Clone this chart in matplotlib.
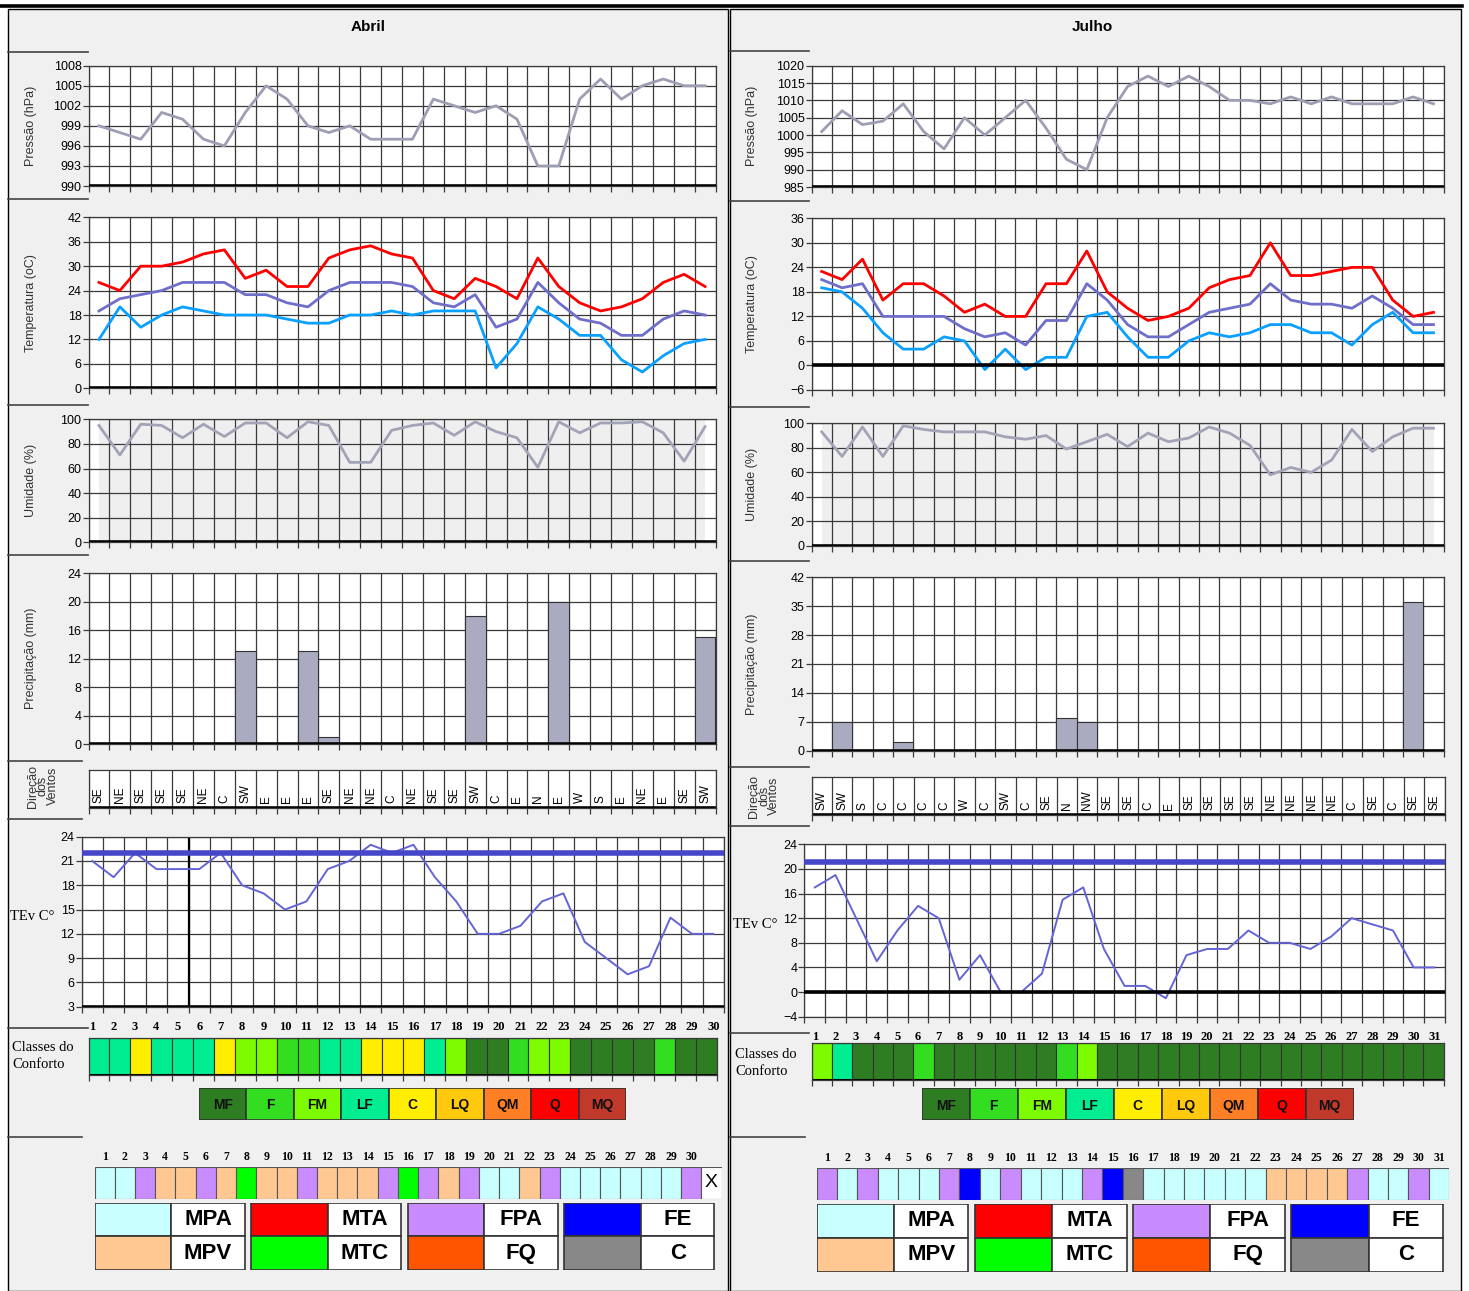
import matplotlib
matplotlib.use('Agg')
import matplotlib.pyplot as plt
from matplotlib.patches import Rectangle
import numpy as np

plt.rcParams['font.family'] = ['Liberation Sans', 'DejaVu Sans']

W, H = 1469, 1291

# ---------------- Abril ----------------
days_abr = list(range(1, 31))
pres_abr = [999, 998, 997, 1001, 1000, 997, 996, 1001, 1005, 1003, 999, 998, 999, 997, 997,
            997, 1003, 1002, 1001, 1002, 1000, 993, 993, 1003, 1006, 1003, 1005, 1006, 1005, 1005]
tmax_abr = [26, 24, 30, 30, 31, 33, 34, 27, 29, 25, 25, 32, 34, 35, 33,
            32, 24, 22, 27, 25, 22, 32, 25, 21, 19, 20, 22, 26, 28, 25]
tmed_abr = [19, 22, 23, 24, 26, 26, 26, 23, 23, 21, 20, 24, 26, 26, 26,
            25, 21, 20, 23, 15, 17, 26, 21, 17, 16, 13, 13, 17, 19, 18]
tmin_abr = [12, 20, 15, 18, 20, 19, 18, 18, 18, 17, 16, 16, 18, 18, 19,
            18, 19, 19, 19, 5, 11, 20, 17, 13, 13, 7, 4, 8, 11, 12]
umid_abr = [95, 71, 96, 95, 85, 96, 86, 97, 97, 85, 98, 95, 65, 65, 91,
            95, 97, 87, 98, 90, 85, 61, 98, 89, 97, 97, 98, 89, 66, 94]
prec_abr = [0, 0, 0, 0, 0, 0, 0, 13, 0, 0, 13, 1, 0, 0, 0,
            0, 0, 0, 18, 0, 0, 0, 20, 0, 0, 0, 0, 0, 0, 15]
vento_abr = ['SE', 'NE', 'SE', 'SE', 'SE', 'NE', 'C', 'SW', 'E', 'E', 'E', 'SE', 'NE', 'NE', 'C',
             'NE', 'SE', 'SE', 'SW', 'C', 'E', 'N', 'E', 'W', 'S', 'E', 'NE', 'E', 'SE', 'SW']
tev_abr = [21, 19, 22, 20, 20, 20, 22, 18, 17, 15, 16, 20, 21, 23, 22,
           23, 19, 16, 12, 12, 13, 16, 17, 11, 9, 7, 8, 14, 12, 12]
tev_ref_abr = 22
classes_abr = ['LF', 'LF', 'C', 'LF', 'LF', 'LF', 'C', 'FM', 'FM', 'F', 'F', 'LF', 'LF', 'C', 'C',
               'C', 'LF', 'FM', 'MF', 'MF', 'F', 'FM', 'FM', 'MF', 'MF', 'MF', 'MF', 'F', 'MF', 'MF']
bio_abr = ['MPA', 'MPA', 'FPA', 'MPV', 'MPV', 'FPA', 'MPV', 'MTC', 'MPV', 'MPV', 'FPA', 'MPV', 'MPV',
           'MPV', 'FPA', 'MTC', 'FPA', 'MPV', 'FPA', 'MPA', 'MPA', 'MPV', 'FPA', 'MPA', 'MPA', 'MPA',
           'MPA', 'MPA', 'MPA', 'FPA', 'X']

# ---------------- Julho ----------------
days_jul = list(range(1, 32))
pres_jul = [1001, 1007, 1003, 1004, 1009, 1001, 996, 1005, 1000, 1005, 1010, 1002, 993, 990, 1005,
            1014, 1017, 1014, 1017, 1014, 1010, 1010, 1009, 1011, 1009, 1011, 1009, 1009, 1009, 1011, 1009]
tmax_jul = [23, 21, 26, 16, 20, 20, 17, 13, 15, 12, 12, 20, 20, 28, 18,
            14, 11, 12, 14, 19, 21, 22, 30, 22, 22, 23, 24, 24, 16, 12, 13]
tmed_jul = [21, 19, 20, 12, 12, 12, 12, 9, 7, 8, 5, 11, 11, 20, 16,
            10, 7, 7, 10, 13, 14, 15, 20, 16, 15, 15, 14, 17, 14, 10, 10]
tmin_jul = [19, 18, 14, 8, 4, 4, 7, 6, -1, 4, -1, 2, 2, 12, 13,
            7, 2, 2, 6, 8, 7, 8, 10, 10, 8, 8, 5, 10, 13, 8, 8]
umid_jul = [93, 73, 97, 73, 98, 95, 93, 93, 93, 89, 87, 90, 79, 85, 91,
            81, 92, 85, 88, 97, 92, 82, 58, 64, 60, 70, 95, 77, 89, 96, 96]
prec_jul = [0, 7, 0, 0, 2, 0, 0, 0, 0, 0, 0, 0, 8, 7, 0,
            0, 0, 0, 0, 0, 0, 0, 0, 0, 0, 0, 0, 0, 0, 36, 0]
vento_jul = ['SW', 'SW', 'S', 'C', 'C', 'C', 'C', 'W', 'C', 'SW', 'C', 'SE', 'N', 'NW', 'SE', 'SE',
             'C', 'E', 'SE', 'SE', 'SE', 'SE', 'NE', 'NE', 'NE', 'NE', 'C', 'SE', 'C', 'SE', 'SE']
tev_jul = [17, 19, 12, 5, 10, 14, 12, 2, 6, 0, 0, 3, 15, 17, 7,
           1, 1, -1, 6, 7, 7, 10, 8, 8, 7, 9, 12, 11, 10, 4, 4]
tev_ref_jul = 21.2
classes_jul = ['FM', 'LF', 'MF', 'MF', 'MF', 'F', 'MF', 'MF', 'MF', 'MF', 'MF', 'MF', 'F', 'FM', 'MF',
               'MF', 'MF', 'MF', 'MF', 'MF', 'MF', 'MF', 'MF', 'MF', 'MF', 'MF', 'MF', 'MF', 'MF', 'MF', 'MF']
bio_jul = ['FPA', 'MPA', 'FPA', 'MPA', 'MPA', 'MPA', 'FPA', 'FE', 'MPA', 'FPA', 'MPA', 'MPA', 'MPA',
           'FPA', 'FE', 'C', 'MPA', 'MPA', 'MPA', 'MPA', 'MPA', 'MPA', 'MPV', 'MPV', 'MPV', 'MPV',
           'FPA', 'MPA', 'MPA', 'FPA', 'MPA']

# ---------------- legends ----------------
comfort_keys = ['MF', 'F', 'FM', 'LF', 'C', 'LQ', 'QM', 'Q', 'MQ']
comfort_colors = {'MF': '#2e7d22', 'F': '#33dd1f', 'FM': '#7dfc00', 'LF': '#00ee91', 'C': '#ffee00',
                  'LQ': '#ffc90e', 'QM': '#ff7f27', 'Q': '#ff0000', 'MQ': '#c0392b'}
bio_groups = [['MPA', 'MPV'], ['MTA', 'MTC'], ['FPA', 'FQ'], ['FE', 'C']]
bio_colors = {'MPA': '#c8ffff', 'MPV': '#ffc892', 'MTA': '#ff0000', 'MTC': '#00ff00',
              'FPA': '#c88cff', 'FQ': '#ff5500', 'FE': '#0000ff', 'C': '#888888', 'X': '#ffffff'}

GRID = '#3a3a3a'
NARROW = ['Liberation Sans Narrow', 'Liberation Sans', 'DejaVu Sans']
SERIF = ['Liberation Serif', 'DejaVu Serif']

fig = plt.figure(figsize=(W / 100, H / 100), dpi=100)
fig.patch.set_facecolor('white')


def add_ax(x0, y0, x1, y1):
    return fig.add_axes([x0 / W, 1 - y1 / H, (x1 - x0) / W, (y1 - y0) / H])


def ftext(x, y, s, **kw):
    fig.text(x / W, 1 - y / H, s, **kw)


# background panels and separators
bg = fig.add_axes([0, 0, 1, 1])
bg.set_xlim(0, W)
bg.set_ylim(H, 0)
bg.axis('off')
for (px0, px1) in [(8, 728), (730, 1461)]:
    bg.add_patch(Rectangle((px0, 9), px1 - px0, H - 9, fc='#f0f0f0', ec='black', lw=1.0))
bg.plot([0, 1462], [5.5, 5.5], color='black', lw=2.6)
seps = {8: [(88, 51.7), (88, 199.3), (88, 405), (88, 555), (82, 761), (82, 819), (88, 1028), (82, 1137)],
        730: [(809, 51), (809, 201), (809, 407), (809, 561), (809, 767), (809, 826), (809, 1033), (805, 1137)]}
for x0, lst in seps.items():
    for x1, y in lst:
        bg.plot([x0, x1], [y, y], color='#444444', lw=1.2)


def grid_chart(ax, n, yticks, base):
    ax.set_facecolor('white')
    ax.set_xlim(0, n)
    ax.set_ylim(yticks[0], yticks[-1])
    ax.set_xticks(np.arange(n + 1))
    ax.set_xticklabels([])
    ax.set_yticks(yticks)
    ax.set_axisbelow(True)
    ax.grid(True, color=GRID, lw=0.9)
    ax.tick_params(axis='both', length=4, width=0.9, color=GRID, labelsize=9, pad=1)
    for sp in ax.spines.values():
        sp.set_color(GRID)
        sp.set_linewidth(0.9)
    ax.axhline(base, color='black', lw=2.6, zorder=4)


def cell_row(ax, n):
    ax.set_xlim(0, n)
    ax.set_ylim(0, 1)
    ax.set_xticks(np.arange(n + 1))
    ax.set_xticklabels([])
    ax.set_yticks([])
    ax.tick_params(axis='x', length=4, width=0.9, color=GRID)
    for sp in ax.spines.values():
        sp.set_color(GRID)
        sp.set_linewidth(0.9)


def month(lay, days, pres, ptick, tmax, tmed, tmin, ttick, tbase, umid, prec, rtick,
          vento, tev, evtick, evbase, evref, classes, bio, title):
    n = len(days)
    x = np.arange(n) + 0.5
    ftext(lay['xc'], 27, title, ha='center', va='center', fontsize=11, fontweight='bold')

    # pressure
    ax = add_ax(*lay['pres'])
    grid_chart(ax, n, ptick, ptick[0])
    ax.plot(x, pres, color='#9d9db4', lw=2, zorder=3)
    # temperature
    ax = add_ax(*lay['temp'])
    grid_chart(ax, n, ttick, tbase)
    ax.plot(x, tmax, color='#ff0000', lw=2, zorder=3)
    ax.plot(x, tmed, color='#6f6fca', lw=2, zorder=3)
    ax.plot(x, tmin, color='#0aa0ff', lw=2, zorder=3)
    # humidity
    ax = add_ax(*lay['hum'])
    grid_chart(ax, n, [0, 20, 40, 60, 80, 100], 0)
    ax.fill_between(x, 0, 100, color='#efefef', lw=0, zorder=0.2)
    ax.plot(x, umid, color='#a3a3b8', lw=2, zorder=3)
    # precipitation
    ax = add_ax(*lay['prec'])
    grid_chart(ax, n, rtick, 0)
    ax.bar(x, prec, width=1, color='#aaaac0', edgecolor='#333333', lw=0.8, zorder=2)

    # y labels
    for key, lab in [('pres', 'Pressão (hPa)'), ('temp', 'Temperatura (oC)'),
                     ('hum', 'Umidade (%)'), ('prec', 'Precipitação (mm)')]:
        y0, y1 = lay[key][1], lay[key][3]
        ftext(lay['lx'], (y0 + y1) / 2, lab, rotation=90, ha='center', va='center',
              fontsize=9, color='#333333')

    # wind directions
    ax = add_ax(*lay['wind'])
    cell_row(ax, n)
    ax.set_facecolor('white')
    ax.grid(True, axis='x', color=GRID, lw=0.9)
    for xi, d in zip(x, vento):
        ax.text(xi, 0.12, d, rotation=90, ha='center', va='bottom', fontsize=8.5)
    ax.axhline(0, color='black', lw=2.6)
    ftext(lay['wx'], lay['wy'], 'Direção\ndos\nVentos', rotation=90, ha='center', va='center',
          fontsize=9, color='#333333', linespacing=0.8)

    # TEv
    ax = add_ax(*lay['tev'])
    grid_chart(ax, n, evtick, evbase)
    ax.plot(x, tev, color='#6464d4', lw=1.4, zorder=3)
    ax.axhline(evref, color='#4646c8', lw=4, zorder=4)
    ax.set_xticks(x, minor=True)
    ax.set_xticklabels([str(d) for d in days], minor=True, fontsize=9, fontweight='bold', family=SERIF)
    ax.tick_params(axis='x', which='minor', length=0, pad=10)
    if 'vline' in lay:
        ax.axvline(lay['vline'], color='black', lw=1.6, zorder=2)
    ftext(lay['tx'], lay['ty'], 'TEv C°', ha='left', va='center', fontsize=10.5, family=SERIF)

    # comfort classes
    ax = add_ax(*lay['cls'])
    cell_row(ax, n)
    ax.bar(x, np.ones(n), width=1, color=[comfort_colors[c] for c in classes],
           edgecolor='#333333', lw=0.8)
    ax.axhline(0, color='black', lw=2.2)
    ftext(lay['cx'], lay['cy'], 'Classes do\nConforto', ha='left', va='center', fontsize=10.5,
          family=SERIF, linespacing=1.45)

    ax = add_ax(*lay['cleg'])
    ax.set_xlim(0, len(comfort_keys))
    ax.set_ylim(0, 1)
    ax.axis('off')
    kx = np.arange(len(comfort_keys)) + 0.5
    ax.bar(kx, np.ones(len(comfort_keys)), width=1,
           color=[comfort_colors[k] for k in comfort_keys], edgecolor='#333333', lw=1.2)
    for xi, k in zip(kx, comfort_keys):
        ax.text(xi, 0.45, k, ha='center', va='center', fontsize=10, fontweight='bold',
                color='#111111', family=NARROW)

    # biometeorological classes
    nb = len(bio)
    xb = np.arange(nb) + 0.5
    ax = add_ax(*lay['bio'])
    ax.set_xlim(0, nb)
    ax.set_ylim(0, 1)
    ax.axis('off')
    ax.bar(xb, np.ones(nb), width=1, color=[bio_colors[b] for b in bio], edgecolor='#555555', lw=0.8)
    for xi, b in zip(xb, bio):
        if b == 'X':
            ax.text(xi, 0.5, 'X', ha='center', va='center', fontsize=14, family=NARROW)
    for xi, d in zip(xb, days):
        ax.text(xi, 1.12, str(d), ha='center', va='bottom', fontsize=8.5, fontweight='bold', family=SERIF)

    ax = add_ax(*lay['bleg'])
    ax.set_xlim(0, len(bio_groups))
    ax.set_ylim(0, 2)
    ax.axis('off')
    for g, pair in enumerate(bio_groups):
        for r, key in enumerate(pair):
            ax.bar(g + 0.245, 1, width=0.49, bottom=1 - r, color=bio_colors[key],
                   edgecolor='#333333', lw=1.2)
            ax.bar(g + 0.725, 1, width=0.47, bottom=1 - r, color='white',
                   edgecolor='#333333', lw=1.2)
            ax.text(g + 0.725, 1.5 - r, key, ha='center', va='center', fontsize=16,
                    fontweight='bold', family=NARROW)


lay_abr = dict(xc=368, lx=31, wx=43, wy=786, tx=10, ty=917, cx=12, cy=1056, vline=5,
               pres=(88.5, 65.7, 715.5, 186), temp=(88.5, 217.3, 715.5, 388.3),
               hum=(88.5, 419.3, 715.5, 542.3), prec=(88.5, 573, 715.5, 744),
               wind=(88.5, 770, 715.5, 808), tev=(81.5, 836.7, 724, 1006.7),
               cls=(88.5, 1038, 717, 1075), cleg=(199, 1087.7, 626, 1120),
               bio=(94.5, 1166.7, 721.6, 1199), bleg=(94.5, 1202.7, 720.7, 1270))
lay_jul = dict(xc=1092, lx=752, wx=764, wy=796, tx=733, ty=925, cx=735, cy=1063,
               pres=(811.5, 65.7, 1443.7, 187), temp=(811.5, 218.3, 1443.7, 390),
               hum=(811.5, 423.3, 1443.7, 546), prec=(811.5, 577.3, 1443.7, 750.7),
               wind=(811.5, 776.7, 1444.6, 815), tev=(804.5, 844.3, 1444.6, 1016.7),
               cls=(811.5, 1042.7, 1443.7, 1080), cleg=(921.8, 1088, 1353.8, 1120),
               bio=(816.6, 1167.7, 1449.3, 1200), bleg=(816.6, 1204, 1449.3, 1271.7))

month(lay_abr, days_abr, pres_abr, [990, 993, 996, 999, 1002, 1005, 1008],
      tmax_abr, tmed_abr, tmin_abr, [0, 6, 12, 18, 24, 30, 36, 42], 0,
      umid_abr, prec_abr, [0, 4, 8, 12, 16, 20, 24], vento_abr,
      tev_abr, [3, 6, 9, 12, 15, 18, 21, 24], 3, tev_ref_abr, classes_abr, bio_abr, 'Abril')
month(lay_jul, days_jul, pres_jul, [985, 990, 995, 1000, 1005, 1010, 1015, 1020],
      tmax_jul, tmed_jul, tmin_jul, [-6, 0, 6, 12, 18, 24, 30, 36], 0,
      umid_jul, prec_jul, [0, 7, 14, 21, 28, 35, 42], vento_jul,
      tev_jul, [-4, 0, 4, 8, 12, 16, 20, 24], 0, tev_ref_jul, classes_jul, bio_jul, 'Julho')

fig.savefig('out.png', dpi=100, facecolor=fig.get_facecolor())
